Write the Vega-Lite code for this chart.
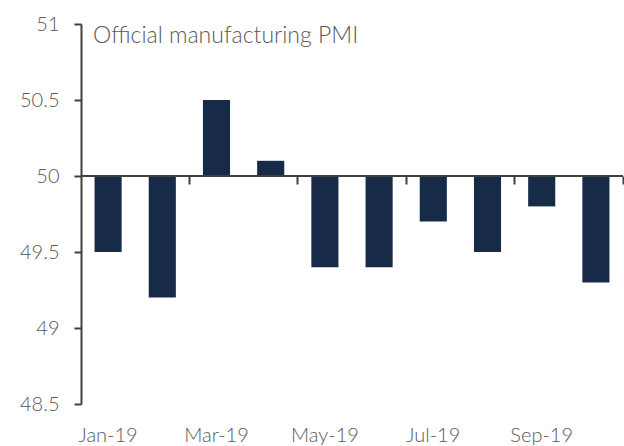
{
  "$schema": "https://vega.github.io/schema/vega-lite/v6.json",
  "width": 542,
  "height": 380,
  "autosize": {"type": "none"},
  "padding": {"left": 81, "top": 24, "right": 1, "bottom": 42},
  "background": "white",
  "config": {
    "view": {"stroke": null},
    "font": "Lato",
    "axis": {"labelFont": "Lato", "labelFontWeight": 300, "labelFontSize": 20, "labelColor": "#595959", "grid": false, "title": null}
  },
  "title": {
    "text": "Official manufacturing PMI",
    "anchor": "start",
    "frame": "group",
    "orient": "top",
    "offset": -52,
    "dx": 12,
    "baseline": "alphabetic",
    "font": "Lato",
    "fontWeight": 300,
    "fontSize": 23,
    "color": "#595959"
  },
  "data": {
    "values": [
      {"month": "Jan-19", "pmi": 49.5},
      {"month": "Feb-19", "pmi": 49.2},
      {"month": "Mar-19", "pmi": 50.5},
      {"month": "Apr-19", "pmi": 50.1},
      {"month": "May-19", "pmi": 49.4},
      {"month": "Jun-19", "pmi": 49.4},
      {"month": "Jul-19", "pmi": 49.7},
      {"month": "Aug-19", "pmi": 49.5},
      {"month": "Sep-19", "pmi": 49.8},
      {"month": "Oct-19", "pmi": 49.3}
    ]
  },
  "resolve": {"axis": {"x": "independent"}},
  "layer": [
    {
      "mark": {"type": "bar", "color": "#172A47", "width": {"band": 0.5}},
      "encoding": {
        "x": {
          "field": "month", "type": "ordinal", "sort": null,
          "scale": {"paddingInner": 0, "paddingOuter": 0},
          "axis": {
            "orient": "bottom", "offset": -228, "labels": false,
            "values": ["Mar-19", "May-19", "Jul-19", "Sep-19"],
            "bandPosition": 0,
            "domain": false,
            "ticks": true, "tickColor": "#404040", "tickWidth": 2, "tickSize": 8
          }
        },
        "y": {
          "field": "pmi", "type": "quantitative",
          "scale": {"domain": [48.5, 51], "nice": false, "zero": false},
          "axis": {
            "values": [48.5, 49, 49.5, 50, 50.5, 51],
            "format": "~g", "zindex": 1,
            "domainColor": "#404040", "domainWidth": 2,
            "tickColor": "#404040", "tickWidth": 2, "tickSize": 7,
            "labelPadding": 15
          }
        },
        "y2": {"datum": 50}
      }
    },
    {
      "mark": {"type": "rule", "color": "#404040", "strokeWidth": 2},
      "encoding": {"y": {"datum": 50}}
    },
    {
      "mark": {"type": "point", "opacity": 0},
      "encoding": {
        "x": {
          "field": "month", "type": "ordinal", "sort": null,
          "axis": {
            "orient": "bottom", "domain": false, "ticks": false, "tickSize": 0,
            "labelPadding": 21, "labelAngle": 0,
            "values": ["Jan-19", "Mar-19", "May-19", "Jul-19", "Sep-19"]
          }
        },
        "y": {"field": "pmi", "type": "quantitative"}
      }
    },
    {
      "mark": {"type": "point", "opacity": 0},
      "encoding": {
        "x": {
          "field": "month", "type": "ordinal", "sort": null,
          "axis": {
            "orient": "bottom", "offset": -228, "labels": false,
            "values": ["Oct-19"], "bandPosition": 1,
            "domain": false,
            "ticks": true, "tickColor": "#404040", "tickWidth": 2, "tickSize": 8
          }
        },
        "y": {"field": "pmi", "type": "quantitative"}
      }
    }
  ]
}
